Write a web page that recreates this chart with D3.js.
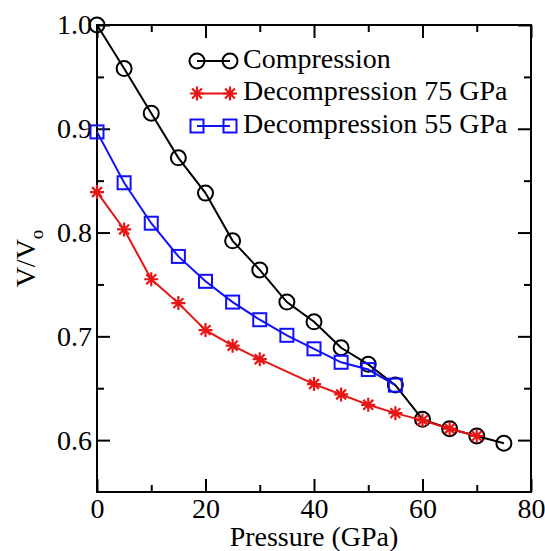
<!DOCTYPE html>
<html><head><meta charset="utf-8">
<script src="https://cdn.jsdelivr.net/npm/d3@7"></script>
<style>
html,body{margin:0;padding:0;background:#fff;}
</style></head>
<body>
<svg id="chart" width="545" height="551"></svg>
<script>
const compressionP = [0,5,10,15,20,25,30,35,40,45,50,55,60,65,70,75];
const compressionV = [1.0,0.958,0.915,0.872,0.838,0.792,0.764,0.733,0.714,0.689,0.673,0.653,0.620,0.611,0.604,0.597];
const decomp75P = [0,5,10,15,20,25,30,40,45,50,55,60,65,70];
const decomp75V = [0.839,0.803,0.755,0.732,0.706,0.691,0.678,0.654,0.644,0.634,0.626,0.619,0.611,0.604];
const decomp55P = [0,5,10,15,20,25,30,35,40,45,50,55];
const decomp55V = [0.897,0.848,0.809,0.777,0.753,0.733,0.716,0.701,0.688,0.675,0.668,0.653];
const xMajorTicks = [0,20,40,60,80];
const xMinorTicks = [10,30,50,70];
const yMajorTicks = [0.6,0.7,0.8,0.9,1.0];
const yMinorTicks = [0.65,0.75,0.85,0.95];
const seriesNames = ["Compression","Decompression 75 GPa","Decompression 55 GPa"];
const seriesColors = ["#000000","#e81515","#1010ff"];
const seriesMarkers = ["circle","star","square"];

const FONT = "'Liberation Serif', 'Times New Roman', Times, 'DejaVu Serif', serif";
const svg = d3.select("#chart");
const L=97, R=531, T=25, B=492;
const x = d3.scaleLinear().domain([0,80]).range([L,R]);
const y = d3.scaleLinear().domain([0.55,1.0]).range([B,T]);

const series = [
  {P:compressionP, V:compressionV},
  {P:decomp75P, V:decomp75V},
  {P:decomp55P, V:decomp55V}
].map((s,i)=>({name:seriesNames[i], color:seriesColors[i], marker:seriesMarkers[i],
  pts:s.P.map((p,j)=>({p, v:s.V[j]}))}));

// axes
const fs = 28;
function styleAxis(g){ g.attr("font-family",FONT); g.select(".domain").remove(); g.selectAll("line").attr("stroke","#000").attr("stroke-width",2);
  g.selectAll("text").style("font-family",FONT).style("font-size",fs+"px").attr("fill","#000"); }
svg.append("g").attr("transform",`translate(0,${B})`)
  .call(d3.axisBottom(x).tickValues(xMajorTicks).tickSize(-13).tickPadding(6).tickFormat(d3.format("d"))).call(styleAxis);
svg.append("g").attr("transform",`translate(0,${B})`)
  .call(d3.axisBottom(x).tickValues(xMinorTicks).tickSize(-7).tickFormat("")).call(styleAxis);
svg.append("g").attr("transform",`translate(0,${T})`)
  .call(d3.axisTop(x).tickValues(xMajorTicks).tickSize(-13).tickFormat("")).call(styleAxis);
svg.append("g").attr("transform",`translate(0,${T})`)
  .call(d3.axisTop(x).tickValues(xMinorTicks).tickSize(-7).tickFormat("")).call(styleAxis);
svg.append("g").attr("transform",`translate(${L},0)`)
  .call(d3.axisLeft(y).tickValues(yMajorTicks).tickSize(-13).tickPadding(5).tickFormat(d3.format(".1f"))).call(styleAxis);
svg.append("g").attr("transform",`translate(${L},0)`)
  .call(d3.axisLeft(y).tickValues(yMinorTicks).tickSize(-7).tickFormat("")).call(styleAxis);
svg.append("g").attr("transform",`translate(${R},0)`)
  .call(d3.axisRight(y).tickValues(yMajorTicks).tickSize(-13).tickFormat("")).call(styleAxis);
svg.append("g").attr("transform",`translate(${R},0)`)
  .call(d3.axisRight(y).tickValues(yMinorTicks).tickSize(-7).tickFormat("")).call(styleAxis);

svg.append("rect").attr("x",L).attr("y",T).attr("width",R-L).attr("height",B-T)
  .attr("fill","none").attr("stroke","#000").attr("stroke-width",2);

// axis titles
svg.append("text").attr("x",(L+R)/2).attr("y",546).attr("text-anchor","middle")
  .style("font-family",FONT).style("font-size","28px").text("Pressure (GPa)");
const yt = svg.append("text").attr("transform",`translate(35,${(T+B)/2}) rotate(-90)`)
  .attr("text-anchor","middle").style("font-family",FONT).style("font-size","28px");
yt.append("tspan").text("V/V");
yt.append("tspan").attr("dy",8).style("font-size","19px").text("o");

function marker(g, type, color, cx, cy){
  if(type==="circle"){
    g.append("circle").attr("cx",cx).attr("cy",cy).attr("r",7.5).attr("fill","none")
      .attr("stroke",color).attr("stroke-width",2);
  } else if(type==="square"){
    g.append("rect").attr("x",cx-6.5).attr("y",cy-6.5).attr("width",13).attr("height",13)
      .attr("fill","none").attr("stroke",color).attr("stroke-width",2);
  } else {
    const r=7, d=r*Math.SQRT1_2;
    g.append("path").attr("d",`M${cx-r},${cy}L${cx+r},${cy}M${cx},${cy-r}L${cx},${cy+r}M${cx-d},${cy-d}L${cx+d},${cy+d}M${cx-d},${cy+d}L${cx+d},${cy-d}`)
      .attr("stroke",color).attr("stroke-width",2.2).attr("fill","none");
  }
}

const line = d3.line().x(d=>x(d.p)).y(d=>y(d.v));
series.forEach(s=>{
  const g = svg.append("g");
  g.append("path").datum(s.pts).attr("d",line).attr("fill","none").attr("stroke",s.color).attr("stroke-width",2);
  s.pts.forEach(d=>marker(g, s.marker, s.color, x(d.p), y(d.v)));
});

// legend
const legY0 = 61, legDy = 32.5;
series.forEach((s,i)=>{
  const g = svg.append("g");
  const yy = legY0 + i*legDy;
  g.append("line").attr("x1",197).attr("x2",230).attr("y1",yy).attr("y2",yy).attr("stroke",s.color).attr("stroke-width",2);
  marker(g, s.marker, s.color, 197, yy);
  marker(g, s.marker, s.color, 230, yy);
  g.append("text").attr("x",243).attr("y",yy+6.5).style("font-family",FONT).style("font-size","28px").text(s.name);
});
</script>
</body></html>
